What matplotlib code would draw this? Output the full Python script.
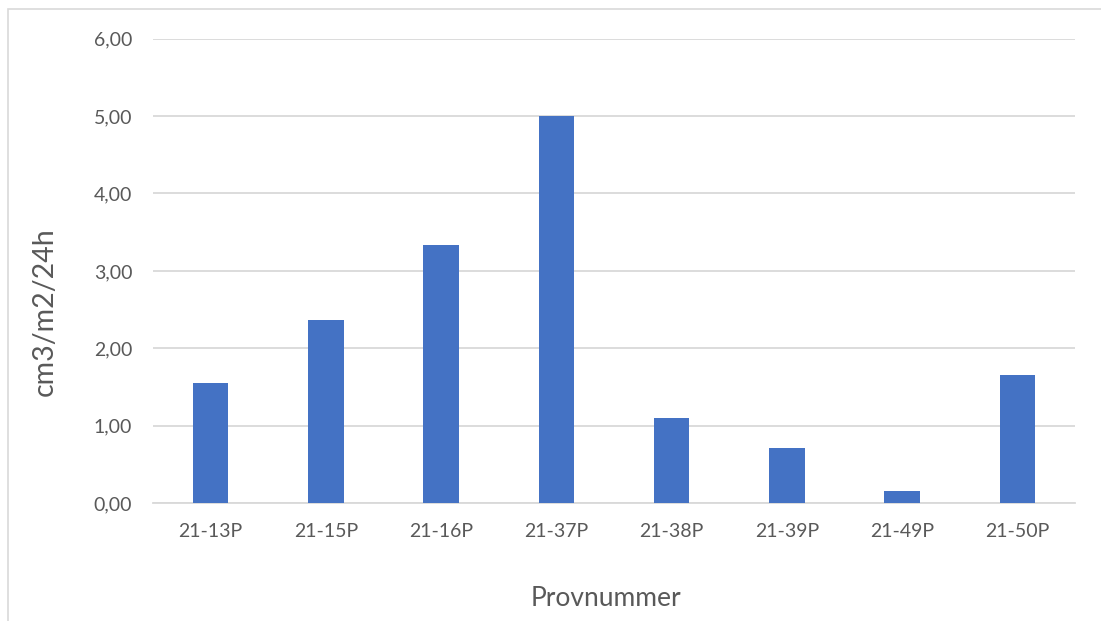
import matplotlib
matplotlib.use("Agg")
import matplotlib.pyplot as plt
from matplotlib.patches import Rectangle
from matplotlib.ticker import FuncFormatter

samples = ["21-13P", "21-15P", "21-16P", "21-37P", "21-38P", "21-39P", "21-49P", "21-50P"]
values = [1.55, 2.37, 3.34, 5.00, 1.10, 0.72, 0.155, 1.66]
yticks = [0, 1, 2, 3, 4, 5, 6]

BAR = "#4472C4"
GRID = "#D9D9D9"
TXT = "#595959"

plt.rcParams["font.family"] = ["Lato", "DejaVu Sans"]

W, H = 1101, 621
fig = plt.figure(figsize=(W / 100, H / 100), dpi=100, facecolor="white")

# chart-area border (light gray, runs off the right/bottom edges)
fig.patches.append(Rectangle((8 / W, -0.1), 1.2, 1 - 9 / H + 0.1,
                             transform=fig.transFigure, fill=False,
                             edgecolor="#D9D9D9", linewidth=1.2))

left, right = 153 / W, 1075 / W
bottom, top = 1 - 503.3 / H, 1 - 38.5 / H
ax = fig.add_axes([left, bottom, right - left, top - bottom])

x = range(len(samples))
ax.bar(x, values, width=0.31, color=BAR, zorder=3)

ax.set_xlim(-0.5, len(samples) - 0.5)
ax.set_ylim(0, 6)
ax.set_yticks(yticks)
ax.yaxis.set_major_formatter(FuncFormatter(lambda v, p: f"{v:.2f}".replace(".", ",")))
ax.set_xticks(list(x))
ax.set_xticklabels(samples)

ax.grid(axis="y", color=GRID, linewidth=1.3, zorder=0)
for s in ["top", "right", "left"]:
    ax.spines[s].set_visible(False)
ax.spines["bottom"].set_color(GRID)
ax.spines["bottom"].set_linewidth(1.3)
ax.tick_params(axis="both", length=0, labelsize=14, colors=TXT)
ax.tick_params(axis="y", pad=15)
ax.tick_params(axis="x", pad=14)

fig.text(45 / W, 1 - 312 / H, "cm3/m2/24h", rotation=90, ha="center", va="center",
         fontsize=20.5, color=TXT)
fig.text(606 / W, 1 - 598 / H, "Provnummer", ha="center", va="center",
         fontsize=19, color=TXT)

fig.savefig("out.png", dpi=100, facecolor="white")
